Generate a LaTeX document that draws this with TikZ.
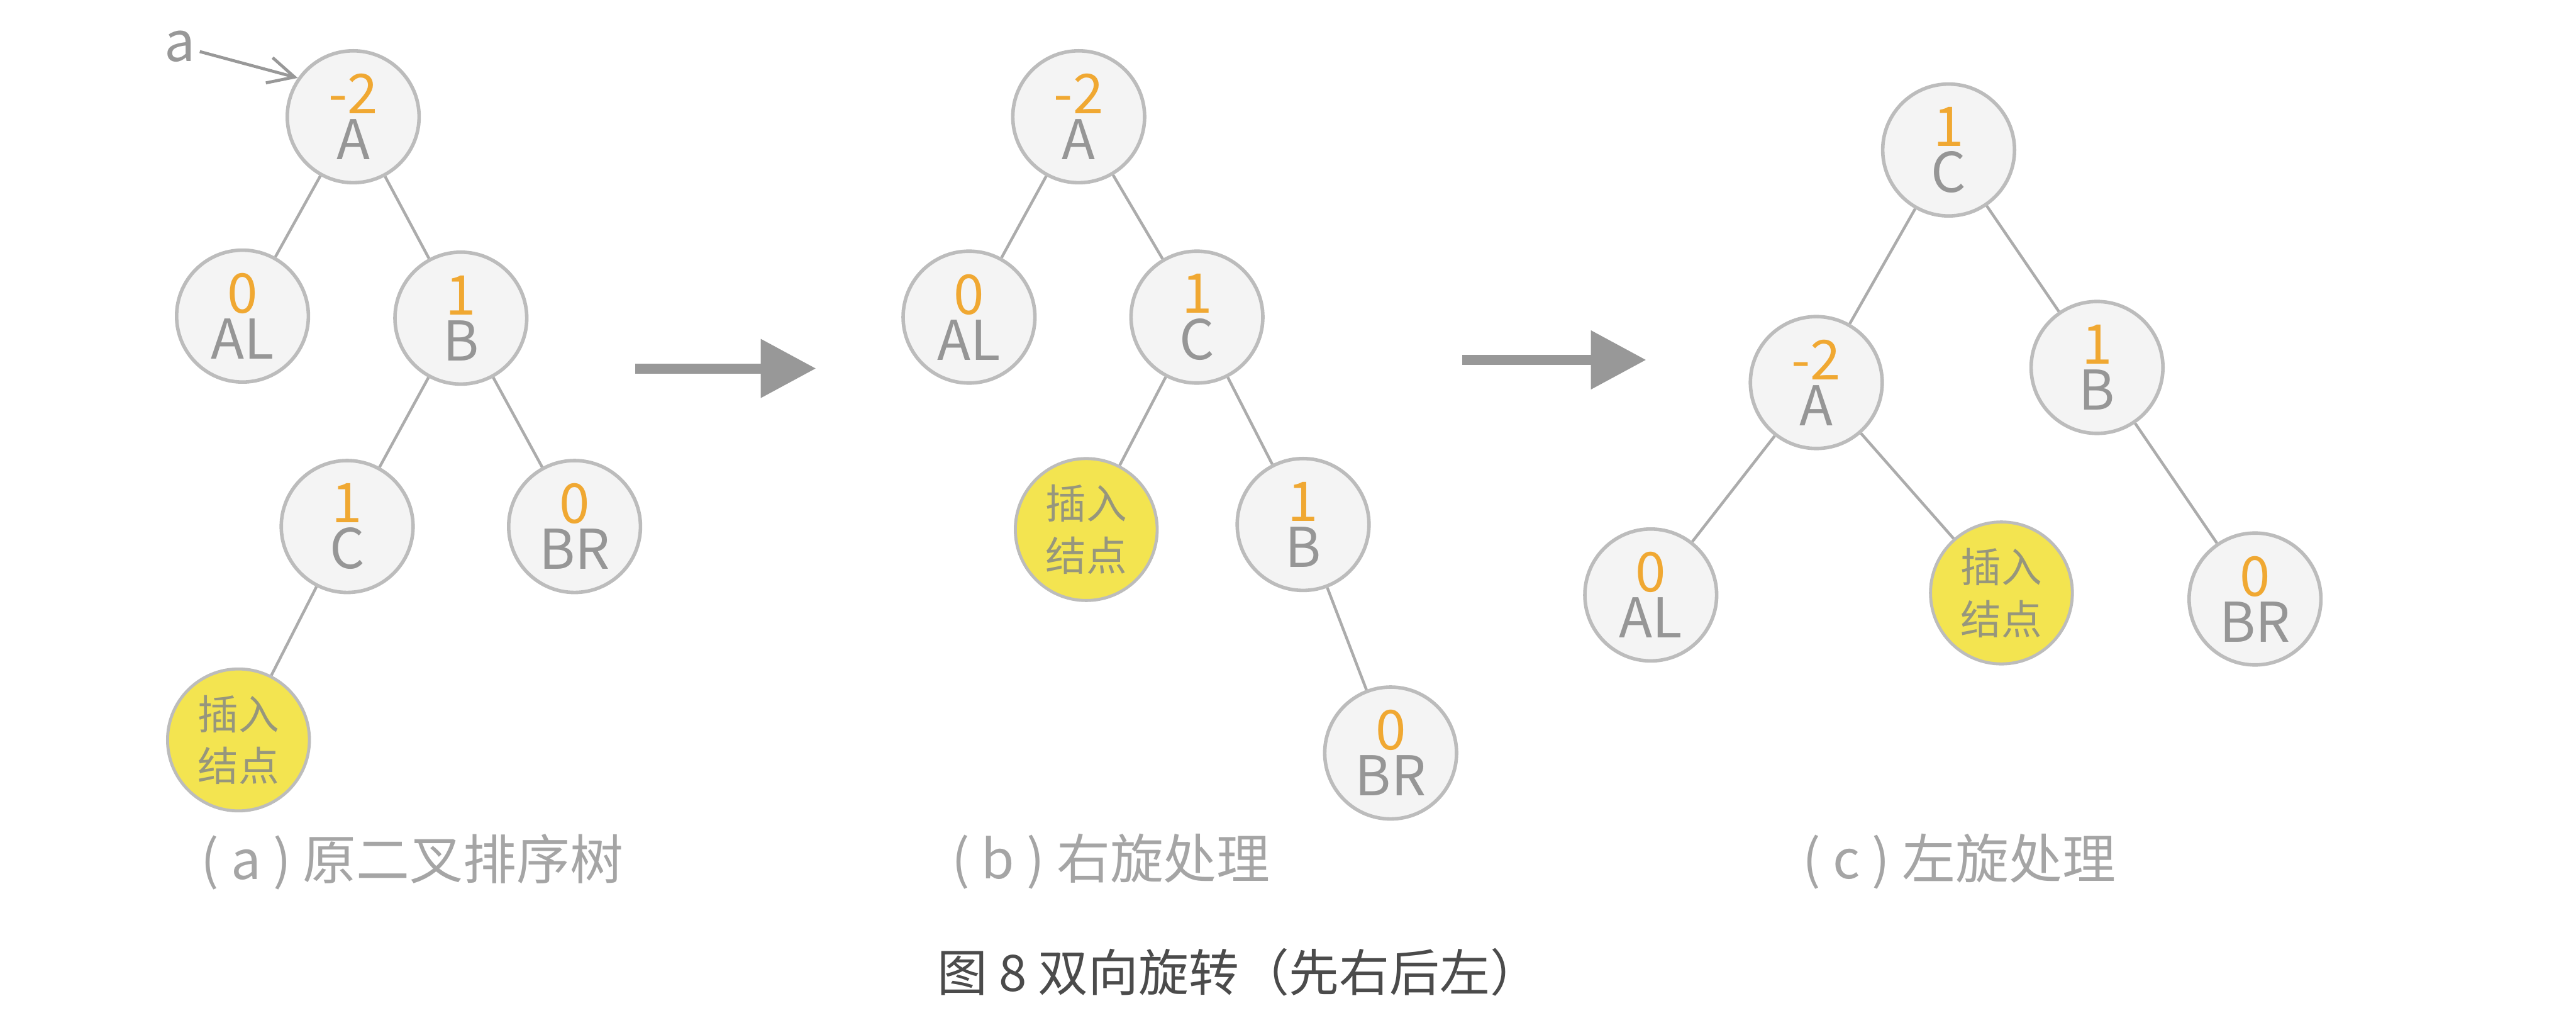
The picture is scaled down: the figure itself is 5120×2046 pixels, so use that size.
\documentclass[tikz,border=0pt]{standalone}
\usepackage{fontspec}
\setmainfont{Noto Sans CJK SC}
\usepackage{tikz}
\usetikzlibrary{arrows.meta,positioning}
\definecolor{AVLLine}{RGB}{188,188,188}
\definecolor{AVLEdge}{RGB}{172,172,172}
\definecolor{AVLFill}{RGB}{244,244,244}
\definecolor{AVLOrange}{RGB}{240,168,50}
\definecolor{AVLText}{RGB}{150,150,150}
\definecolor{AVLYellow}{RGB}{243,228,80}
\definecolor{AVLInsText}{RGB}{150,150,125}
\definecolor{AVLArrow}{RGB}{152,152,152}
\definecolor{AVLSub}{RGB}{165,165,165}
\definecolor{AVLTitle}{RGB}{75,75,75}

\begin{document}
\begin{tikzpicture}[
    x=0.05mm, y=-0.05mm,
    avl/.style={circle, draw=AVLLine, line width=0.35mm, fill=AVLFill, minimum size=13.1mm, inner sep=0pt, align=center, text=AVLText, font=\fontsize{15.5}{13}\selectfont},
    insnode/.style={circle, draw=AVLLine, line width=0.3mm, fill=AVLYellow, minimum size=14.1mm, inner sep=0pt, align=center, text=AVLInsText, font=\fontsize{11.5}{14.7}\selectfont},
    link/.style={draw=AVLEdge, line width=0.28mm},
    bigarrow/.style={-{Triangle[length=5.5mm,width=5.6mm]}, line width=1mm, draw=AVLArrow},
    pointer/.style={-{Straight Barb[length=2.6mm,width=2.6mm]}, line width=0.3mm, draw=AVLArrow},
    subcap/.style={anchor=west, inner sep=0pt, text=AVLSub, font=\fontsize{15.1}{16}\selectfont}
  ]
    \useasboundingbox (0,0) rectangle (5120,2046);
    % (a) original tree
    \node[avl] (aA) at (702,232) {\textcolor{AVLOrange}{-2}\\A};
    \node[avl] (aAL) at (482,628) {\textcolor{AVLOrange}{0}\\AL};
    \node[avl] (aB) at (916,632) {\textcolor{AVLOrange}{1}\\B};
    \node[avl] (aC) at (690,1046) {\textcolor{AVLOrange}{1}\\C};
    \node[avl] (aBR) at (1142,1046) {\textcolor{AVLOrange}{0}\\BR};
    \node[insnode] (aIns) at (474,1470) {插入\\结点};
    \foreach \a/\b in {aA/aAL,aA/aB,aB/aC,aB/aBR,aC/aIns} {\draw[link] (\a) -- (\b);}
    \node[text=AVLArrow, inner sep=1pt, font=\fontsize{15.5}{16}\selectfont] (ptr) at (358,92) {a};
    \draw[pointer] (ptr) -- (aA.145);
    % (b) after right rotation
    \node[avl] (bA) at (2144,232) {\textcolor{AVLOrange}{-2}\\A};
    \node[avl] (bAL) at (1926,630) {\textcolor{AVLOrange}{0}\\AL};
    \node[avl] (bC) at (2379,630) {\textcolor{AVLOrange}{1}\\C};
    \node[insnode] (bIns) at (2159,1052) {插入\\结点};
    \node[avl] (bB) at (2590,1042) {\textcolor{AVLOrange}{1}\\B};
    \node[avl] (bBR) at (2764,1496) {\textcolor{AVLOrange}{0}\\BR};
    \foreach \a/\b in {bA/bAL,bA/bC,bC/bIns,bC/bB,bB/bBR} {\draw[link] (\a) -- (\b);}
    % (c) after left rotation
    \node[avl] (cC) at (3873,298) {\textcolor{AVLOrange}{1}\\C};
    \node[avl] (cA) at (3610,760) {\textcolor{AVLOrange}{-2}\\A};
    \node[avl] (cB) at (4168,730) {\textcolor{AVLOrange}{1}\\B};
    \node[avl] (cAL) at (3281,1182) {\textcolor{AVLOrange}{0}\\AL};
    \node[insnode] (cIns) at (3978,1178) {插入\\结点};
    \node[avl] (cBR) at (4482,1190) {\textcolor{AVLOrange}{0}\\BR};
    \foreach \a/\b in {cC/cA,cC/cB,cA/cAL,cA/cIns,cB/cBR} {\draw[link] (\a) -- (\b);}
    % arrows between the steps
    \coordinate (arrA) at (1262,732);
    \coordinate (arrB) at (1622,732);
    \coordinate (arrC) at (2906,715);
    \coordinate (arrD) at (3272,715);
    \draw[bigarrow] (arrA) -- (arrB);
    \draw[bigarrow] (arrC) -- (arrD);
    % captions
    \node[subcap] (capa) at (398,1712) {( a ) 原二叉排序树};
    \node[subcap] (capb) at (1890,1712) {( b ) 右旋处理};
    \node[subcap] (capc) at (3582,1712) {( c ) 左旋处理};
    \node[anchor=west, inner sep=0pt, text=AVLTitle, font=\fontsize{14.2}{16}\selectfont] (title) at (1862,1932) {图 8 双向旋转（先右后左）};
  \end{tikzpicture}
\end{document}
